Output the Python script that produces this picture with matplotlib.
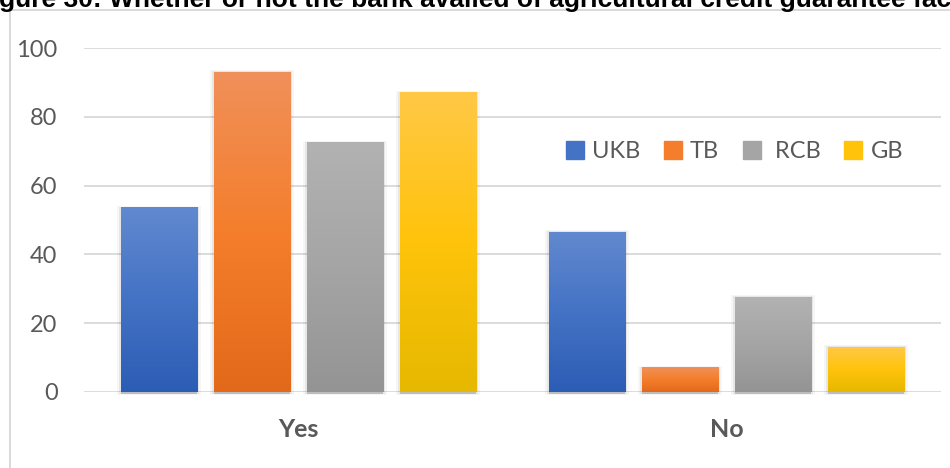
import matplotlib.pyplot as plt
import numpy as np
from matplotlib.colors import LinearSegmentedColormap
from matplotlib.patches import Rectangle, Patch
from matplotlib.lines import Line2D

# data
categories = ['Yes', 'No']
banks = ['UKB', 'TB', ' RCB', 'GB']
ukb = [53.5, 46.5]
tb = [93, 7]
rcb = [72.5, 27.5]
gb = [87, 13]
yticks = [0, 20, 40, 60, 80, 100]
title_text = 'gure 30: Whether or not the bank availed of agricultural credit guarantee fac'

series = [ukb, tb, rcb, gb]
# (bottom, middle, top) colours of the excel style gradient
grads = [('#2C5DB5', '#4472C4', '#6189CF'),
         ('#E3691A', '#F47E2B', '#F0905A'),
         ('#949494', '#A5A5A5', '#B2B2B2'),
         ('#E6B800', '#FFC30B', '#FFC846')]

txt_color = '#595959'
grid_color = '#D9D9D9'

fig = plt.figure(figsize=(9.5, 4.68), dpi=100)
ax = fig.add_axes([0.0884, 0.1624, 0.9021, 0.7350])

x = np.arange(len(categories))
width = 0.178
step = 0.217
px_x = 1 / 428.0   # one pixel in x data units
px_y = 100 / 344.0  # one pixel in y data units

gradient = np.linspace(0, 1, 256).reshape(-1, 1)
for i, (vals, g) in enumerate(zip(series, grads)):
    offs = (i - 1.5) * step
    bars = ax.bar(x + offs, vals, width, color=g[1], zorder=3, label=banks[i])
    cmap = LinearSegmentedColormap.from_list('g%d' % i, list(g))
    for b in bars:
        x0, w, h = b.get_x(), b.get_width(), b.get_height()
        # soft shadow
        ax.add_patch(Rectangle((x0 - 4 * px_x, -3 * px_y), w + 8 * px_x, h + 5 * px_y,
                               color='black', alpha=0.035, lw=0, zorder=2, clip_on=False))
        ax.add_patch(Rectangle((x0 - 2 * px_x, -2 * px_y), w + 4 * px_x, h + 3 * px_y,
                               color='black', alpha=0.06, lw=0, zorder=2, clip_on=False))
        ax.add_patch(Rectangle((x0, -2 * px_y), w, 2 * px_y,
                               color='black', alpha=0.18, lw=0, zorder=2, clip_on=False))
        ax.imshow(gradient, extent=[x0, x0 + w, 0, h], origin='lower', cmap=cmap,
                  aspect='auto', zorder=4, interpolation='bilinear')

ax.set_xlim(-0.5, 1.5)
ax.set_ylim(0, 100)
ax.set_yticks(yticks)
ax.set_xticks(x)
ax.set_xticklabels(categories, fontfamily='Lato', fontweight='bold', fontsize=18, color=txt_color)
for lab in ax.get_yticklabels():
    lab.set_fontfamily('Lato')
    lab.set_fontsize(17)
    lab.set_color(txt_color)
ax.tick_params(axis='y', length=0, pad=19)
ax.tick_params(axis='x', length=0, pad=19)
ax.yaxis.grid(True, color=grid_color, lw=1.3, zorder=0)
ax.set_axisbelow(True)
for s in ax.spines.values():
    s.set_visible(False)

handles = [Patch(color=g[1]) for g in grads]
leg = ax.legend(handles, banks, loc='center', bbox_to_anchor=(0.759, 0.698), ncol=4,
                frameon=False, handlelength=0.76, handleheight=0.76, handletextpad=0.35,
                columnspacing=1.0, prop={'family': 'Lato', 'size': 17})
for t in leg.get_texts():
    t.set_color(txt_color)

# chart frame and the title, cut at the top edge as in the source
fig.add_artist(Line2D([0.0105, 0.0105], [0, 0.9786], color=grid_color, lw=1.4))
fig.add_artist(Line2D([0.0105, 1.0], [0.9786, 0.9786], color=grid_color, lw=1.4))
fig.text(-0.001, 0.984, title_text, ha='left', va='baseline', fontsize=19,
         fontweight='bold', fontfamily='Liberation Sans', color='black')

fig.savefig('out.png', dpi=100)
